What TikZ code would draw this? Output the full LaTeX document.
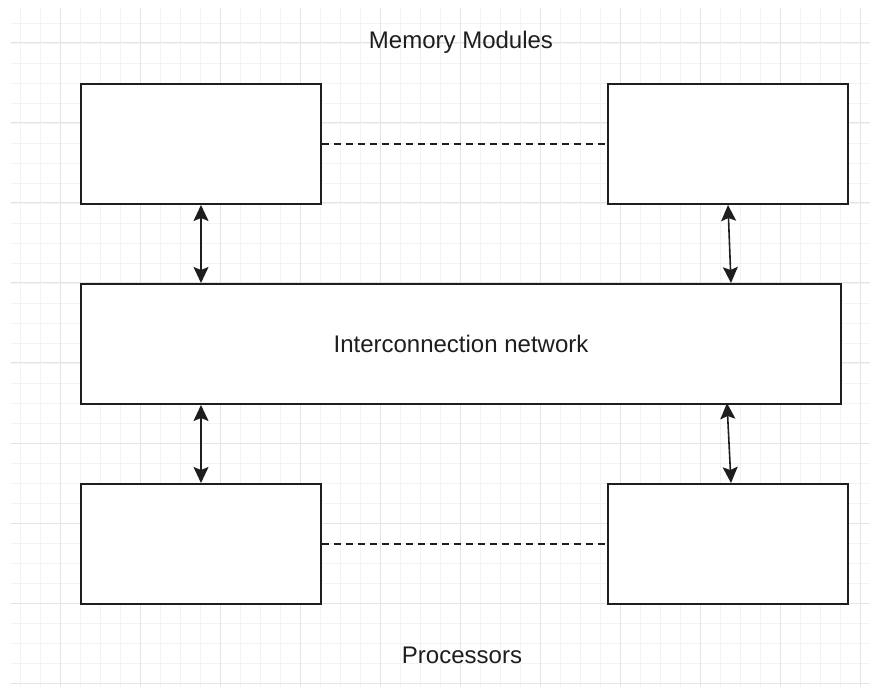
\documentclass[tikz,border=0pt]{standalone}
\usepackage{fontspec}
\setmainfont{Liberation Sans}
\usetikzlibrary{arrows.meta}
\definecolor{gridminor}{HTML}{F3F3F3}
\definecolor{gridmajor}{HTML}{E4E4E4}
\definecolor{ink}{HTML}{1E1E1E}
\tikzset{
  box/.style={draw=ink, line width=2pt, fill=white, inner sep=0pt, anchor=north west},
  link/.style={ink, line width=1.6pt, {Stealth[length=16pt,width=15pt,inset=3pt]}-{Stealth[length=16pt,width=15pt,inset=3pt]}},
  dashlink/.style={ink, line width=1.6pt, dash pattern=on 7pt off 5pt},
  label/.style={text=ink, font=\fontsize{24}{28}\selectfont, inner sep=0pt}
}
\begin{document}
\begin{tikzpicture}[x=1pt, y=-1pt]
  \useasboundingbox (0,0) rectangle (878,692);
  % background grid
  \foreach \gx in {20,40,...,860} \draw[gridminor, line width=0.8pt] (\gx,8) -- (\gx,687);
  \foreach \gy in {23,43,...,683} \draw[gridminor, line width=0.8pt] (11,\gy) -- (870,\gy);
  \foreach \gx in {60,140,...,860} \draw[gridmajor, line width=1pt] (\gx,8) -- (\gx,687);
  \foreach \gy in {43,123,...,683} \draw[gridmajor, line width=1pt] (11,\gy) -- (870,\gy);

  % memory modules
  \node[box, minimum width=240pt, minimum height=120pt] (memL) at (80,83) {};
  \node[box, minimum width=240pt, minimum height=120pt] (memR) at (607,83) {};
  % interconnection network
  \node[box, minimum width=760pt, minimum height=120pt] (net) at (80,283) {};
  \node[label] (netlabel) at (461,344) {Interconnection network};
  % processors
  \node[box, minimum width=240pt, minimum height=120pt] (procL) at (80,483) {};
  \node[box, minimum width=240pt, minimum height=120pt] (procR) at (607,483) {};

  % captions
  \node[label] (memcap) at (461,42) {Memory Modules};
  \node[label] (proccap) at (462,655) {Processors};

  % ends of the right-hand links on the network box
  \coordinate (netTopR) at (731,283);
  \coordinate (netBotR) at (727,403);
  \coordinate (procTopR) at (731,483);

  % links
  \draw[link] (memL.south) -- (memL.south |- net.north);
  \draw[link] (memR.south) -- (netTopR);
  \draw[link] (procL.north |- net.south) -- (procL.north);
  \draw[link] (netBotR) -- (procTopR);

  % dashed continuation between the outer modules
  \draw[dashlink] (memL.east) -- (memR.west);
  \draw[dashlink] (procL.east) -- (procR.west);
\end{tikzpicture}
\end{document}
